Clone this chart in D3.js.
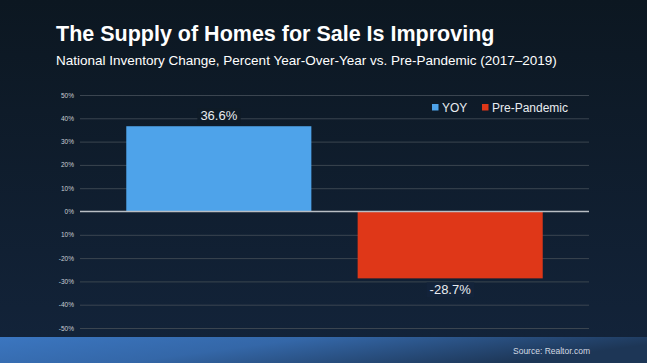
<!DOCTYPE html>
<html><head><meta charset="utf-8">
<script src="https://cdn.jsdelivr.net/npm/d3@7"></script>
<style>html,body{margin:0;padding:0;background:#0d1822;}svg{display:block;}</style>
</head><body>
<svg id="c" width="647" height="363"></svg>
<script>
const series = ["YOY", "Pre-Pandemic"];
const values = [36.6, -28.7];
const valueLabels = ["36.6%", "-28.7%"];
const tickValues = [50, 40, 30, 20, 10, 0, -10, -20, -30, -40, -50];
const tickLabels = ["50%", "40%", "30%", "20%", "10%", "0%", "10%", "-20%", "-30%", "-40%", "-50%"];
const colors = ["#4ea3ea", "#df3718"];

const W = 647, H = 363;
const svg = d3.select("#c");
const defs = svg.append("defs");
const bg = defs.append("linearGradient").attr("id","bg").attr("x1",0).attr("y1",0).attr("x2",0).attr("y2",1);
bg.append("stop").attr("offset","0%").attr("stop-color","#0c1721");
bg.append("stop").attr("offset","100%").attr("stop-color","#13243b");
const ft = defs.append("linearGradient").attr("id","ft").attr("x1",0).attr("y1",0).attr("x2",1).attr("y2",0.3);
ft.append("stop").attr("offset","0%").attr("stop-color","#3b76c0");
ft.append("stop").attr("offset","45%").attr("stop-color","#3467a8");
ft.append("stop").attr("offset","100%").attr("stop-color","#1d3656");

svg.append("rect").attr("width",W).attr("height",H).attr("fill","url(#bg)");
svg.append("rect").attr("x",0).attr("y",337).attr("width",W).attr("height",H-337).attr("fill","url(#ft)");

const font = "'Liberation Sans', Arial, sans-serif";
svg.append("text").attr("x",56).attr("y",41).attr("fill","#fff")
  .attr("font-family",font).attr("font-weight","bold").attr("font-size",21.5)
  .text("The Supply of Homes for Sale Is Improving");
svg.append("text").attr("x",56).attr("y",65).attr("fill","#fff")
  .attr("font-family",font).attr("font-size",13.5)
  .text("National Inventory Change, Percent Year-Over-Year vs. Pre-Pandemic (2017–2019)");

const y = d3.scaleLinear().domain([-50, 50]).range([328, 95]);
const x = d3.scaleBand().domain(series).range([80, 589]).paddingInner(0.2).paddingOuter(0.2);

// gridlines
const grid = svg.append("g").attr("transform","translate(80,0)")
  .call(d3.axisLeft(y).tickValues(tickValues.filter(v=>v!==0)).tickSize(-509).tickFormat(""));
grid.select(".domain").remove();
grid.selectAll("line").attr("stroke","#3b4550").attr("stroke-width",1);

// tick labels
const ax = svg.append("g").attr("transform","translate(74,0)")
  .call(d3.axisLeft(y).tickValues(tickValues).tickSize(0).tickPadding(0)
    .tickFormat((d,i)=>tickLabels[i]));
ax.select(".domain").remove();
ax.selectAll("text").attr("fill","#c9ced4").attr("font-family",font).attr("font-size",6.5);

// bars
svg.append("g").selectAll("rect").data(values).join("rect")
  .attr("x",(d,i)=>x(series[i]))
  .attr("width",x.bandwidth())
  .attr("y",d=>y(Math.max(0,d)))
  .attr("height",d=>Math.abs(y(d)-y(0)))
  .attr("fill",(d,i)=>colors[i]);

// zero line
svg.append("line").attr("x1",80).attr("x2",589).attr("y1",y(0)).attr("y2",y(0))
  .attr("stroke","#b9bec4").attr("stroke-width",1.5);

// value labels
const lab = svg.append("g");
values.forEach((v,i)=>{
  const cx = x(series[i]) + x.bandwidth()/2;
  const by = v >= 0 ? y(v) - 6 : y(v) + 16;
  const t = lab.append("text").attr("x",cx).attr("y",by).attr("text-anchor","middle")
    .attr("fill","#e8ecf0").attr("font-family",font).attr("font-size",13)
    .text(valueLabels[i]);
  const bb = t.node().getBBox();
  lab.insert("rect","text").attr("x",bb.x-3).attr("y",bb.y).attr("width",bb.width+6).attr("height",bb.height)
    .attr("fill", v>=0 ? "#0f1b27" : "#13233a");
});

// legend
const lg = svg.append("g");
const legX = [432, 482];
series.forEach((s,i)=>{
  lg.append("rect").attr("x",legX[i]).attr("y",104).attr("width",6.5).attr("height",6.5).attr("fill",colors[i]);
  lg.append("text").attr("x",legX[i]+10).attr("y",112).attr("fill","#e8ecf0")
    .attr("font-family",font).attr("font-size",12).text(s);
});

svg.append("text").attr("x",590).attr("y",354).attr("text-anchor","end").attr("fill","#d3dae2")
  .attr("font-family",font).attr("font-size",8.5).text("Source: Realtor.com");
</script>
</body></html>
